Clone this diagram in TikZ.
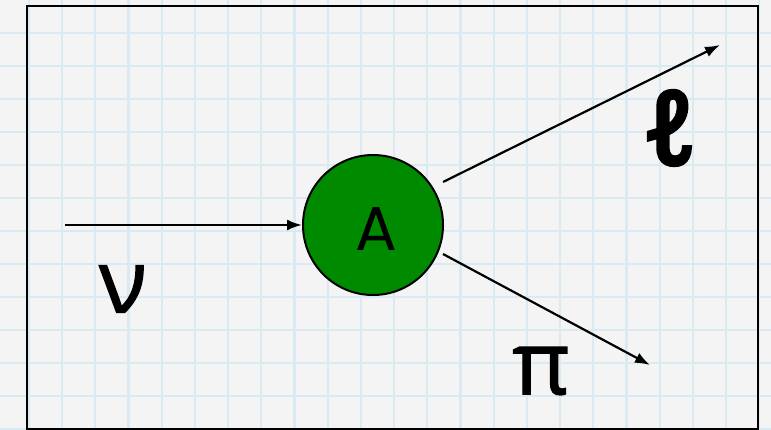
\documentclass[tikz,border=0pt]{standalone}
\usepackage{fontspec}
\usetikzlibrary{arrows.meta}
\newfontfamily\greekfont{Open Sans}[FakeBold=1.5]
\newfontfamily\ellfont{Noto Sans}[FakeBold=5]
\newfontfamily\labelfont{Poppins}
\definecolor{bgcol}{RGB}{244,244,244}
\definecolor{gridcol}{RGB}{218,234,243}
\definecolor{nodegreen}{RGB}{0,138,0}
\tikzset{
  arr/.style={line width=2.2pt, -{Latex[length=15pt,width=11pt]}},
  gridline/.style={draw=gridcol, line width=2.2pt},
  biglabel/.style={inner sep=0pt, font=\greekfont\fontsize{88}{88}\selectfont},
}
\begin{document}
\begin{tikzpicture}[x=1pt,y=-1pt]
\useasboundingbox (0,0) rectangle (771,429);
\fill[bgcol] (0,0) rectangle (771,429);
\foreach \k in {-2,...,22} {
  \draw[gridline] ({62+33.2*\k},0) -- ({62+33.2*\k},429);
}
\foreach \k in {1,...,13} {
  \draw[gridline] (0,{33*\k}) -- (771,{33*\k});
}
\draw[line width=2.6pt] (27,6) rectangle (758,429);
\node[circle, draw, line width=2pt, fill=nodegreen, minimum size=140pt, inner sep=0pt] (A) at (373,225) {};
\node[inner sep=0pt, font=\labelfont\fontsize{62}{62}\selectfont] (Alabel) at (376,229) {A};
\coordinate (nustart) at (65,225);
\coordinate (lstart) at (443,182);
\coordinate (lend) at (720,45);
\coordinate (pistart) at (443,254);
\coordinate (piend) at (650,365);
\draw[arr] (nustart) -- (A.west);
\draw[arr] (lstart) -- (lend);
\draw[arr] (pistart) -- (piend);
\node[biglabel] (nu) at (123,289) {ν};
\node[biglabel] (pi) at (541,371) {π};
\node[inner sep=0pt, font=\ellfont\fontsize{100}{100}\selectfont] (ell) at (670,128) {ℓ};
\end{tikzpicture}
\end{document}
